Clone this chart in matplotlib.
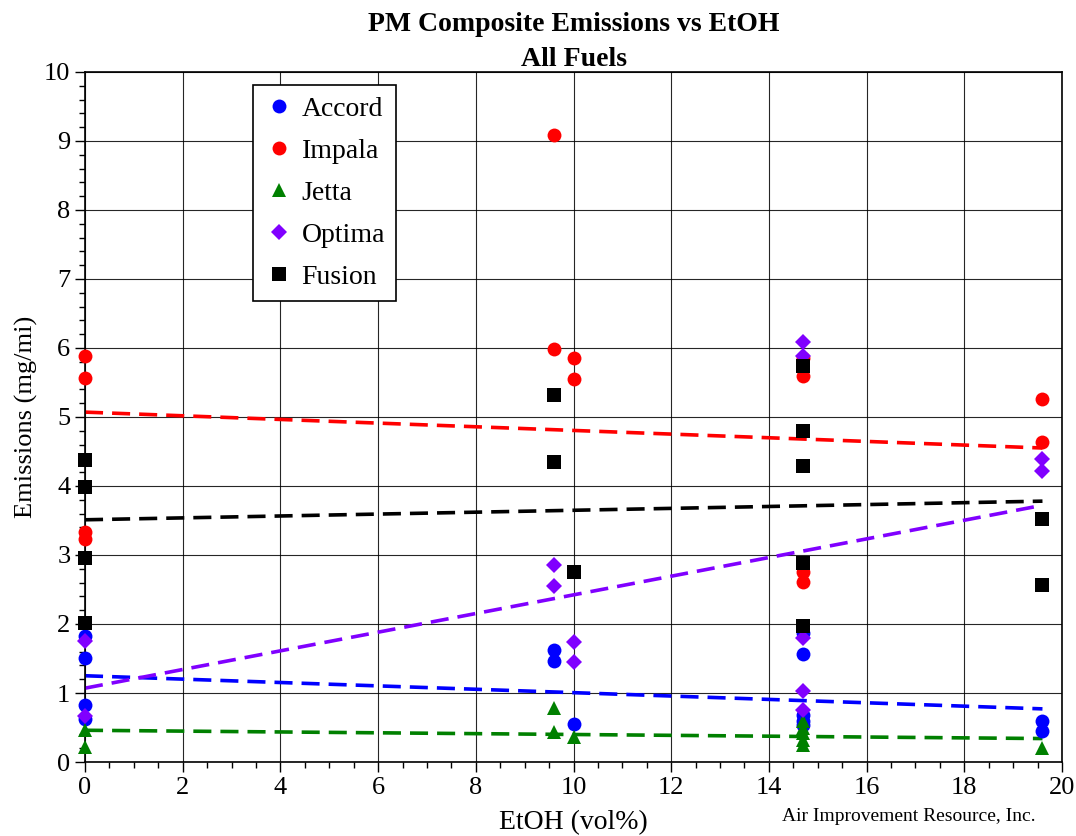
import matplotlib
matplotlib.use('Agg')
from matplotlib import pyplot as plt
from matplotlib.ticker import MultipleLocator

# ethanol content of each test point and measured PM (mg/mi)
accord_x = [0, 0, 0, 0, 9.6, 9.6, 10, 14.7, 14.7, 14.7, 14.7, 14.7, 19.6, 19.6]
accord_y = [1.83, 1.51, 0.82, 0.62, 1.62, 1.46, 0.55, 1.87, 1.56, 0.68, 0.6, 0.53, 0.6, 0.45]

impala_x = [0, 0, 0, 0, 9.6, 9.6, 10, 10, 14.7, 14.7, 14.7, 14.7, 19.6, 19.6]
impala_y = [5.89, 5.56, 3.33, 3.23, 9.09, 5.98, 5.86, 5.55, 5.85, 5.6, 2.75, 2.61, 5.26, 4.64]

jetta_x = [0, 0, 9.6, 9.6, 10, 14.7, 14.7, 14.7, 14.7, 14.7, 19.6]
jetta_y = [0.47, 0.22, 0.78, 0.43, 0.36, 0.6, 0.5, 0.42, 0.32, 0.25, 0.2]

optima_x = [0, 0, 9.6, 9.6, 10, 10, 14.7, 14.7, 14.7, 14.7, 14.7, 19.6, 19.6]
optima_y = [1.76, 0.66, 2.86, 2.55, 1.74, 1.45, 6.08, 5.88, 1.8, 1.03, 0.75, 4.39, 4.21]

fusion_x = [0, 0, 0, 0, 9.6, 9.6, 10, 14.7, 14.7, 14.7, 14.7, 14.7, 19.6, 19.6]
fusion_y = [4.38, 3.98, 2.95, 2.01, 5.32, 4.35, 2.75, 5.74, 4.79, 4.29, 2.89, 1.97, 3.52, 2.56]

# linear trend lines, value at start and end of the EtOH range
trend_x = [0, 19.6]
accord_trend = [1.25, 0.77]
impala_trend = [5.07, 4.55]
jetta_trend = [0.46, 0.34]
optima_trend = [1.07, 3.72]
fusion_trend = [3.51, 3.78]

plt.rcParams['font.family'] = ['Liberation Serif', 'DejaVu Serif']

fig = plt.figure(figsize=(10.76, 8.36), dpi=100)
ax = fig.add_axes([0.079, 0.0885, 0.908, 0.8255])

series = [
    ('Accord', accord_x, accord_y, accord_trend, '#0000ff', 'o', 10),
    ('Impala', impala_x, impala_y, impala_trend, '#ff0000', 'o', 10),
    ('Jetta', jetta_x, jetta_y, jetta_trend, '#008000', '^', 10),
    ('Optima', optima_x, optima_y, optima_trend, '#8000ff', 'D', 8),
    ('Fusion', fusion_x, fusion_y, fusion_trend, '#000000', 's', 9.5),
]

for name, xs, ys, tr, col, mk, ms in series:
    ax.plot(trend_x, tr, color=col, linestyle=(0, (5, 2.5)), linewidth=2.6, zorder=2)

for name, xs, ys, tr, col, mk, ms in series:
    ax.plot(xs, ys, linestyle='none', marker=mk, markersize=ms, color=col,
            markeredgewidth=0, label=name, zorder=3, clip_on=False)

ax.set_xlim(0, 20)
ax.set_ylim(0, 10)
ax.xaxis.set_major_locator(MultipleLocator(2))
ax.xaxis.set_minor_locator(MultipleLocator(0.5))
ax.yaxis.set_major_locator(MultipleLocator(1))
ax.yaxis.set_minor_locator(MultipleLocator(0.2))
ax.grid(True, which='major', color='#000000', linewidth=0.8, alpha=0.85)
ax.tick_params(which='major', direction='out', length=7, width=1, labelsize=19)
ax.tick_params(which='minor', direction='out', length=4, width=1)
for sp in ax.spines.values():
    sp.set_linewidth(1.2)

ax.set_xlabel('EtOH (vol%)', fontsize=20, labelpad=8)
ax.set_ylabel('Emissions (mg/mi)', fontsize=19, labelpad=4)
ax.set_title('PM Composite Emissions vs EtOH\nAll Fuels', fontsize=20,
             fontweight='bold', linespacing=1.5, pad=4)

leg = ax.legend(loc='upper left', bbox_to_anchor=(0.172, 0.981), fontsize=20,
                frameon=True, fancybox=False, edgecolor='#000000',
                handletextpad=0.25, labelspacing=0.6, borderpad=0.4,
                handlelength=1.1, borderaxespad=0)
leg.get_frame().set_linewidth(1.2)
leg.get_frame().set_alpha(1)

fig.text(0.962, 0.023, 'Air Improvement Resource, Inc.', fontsize=14,
         ha='right', va='center')

fig.savefig('out.png', dpi=100)
